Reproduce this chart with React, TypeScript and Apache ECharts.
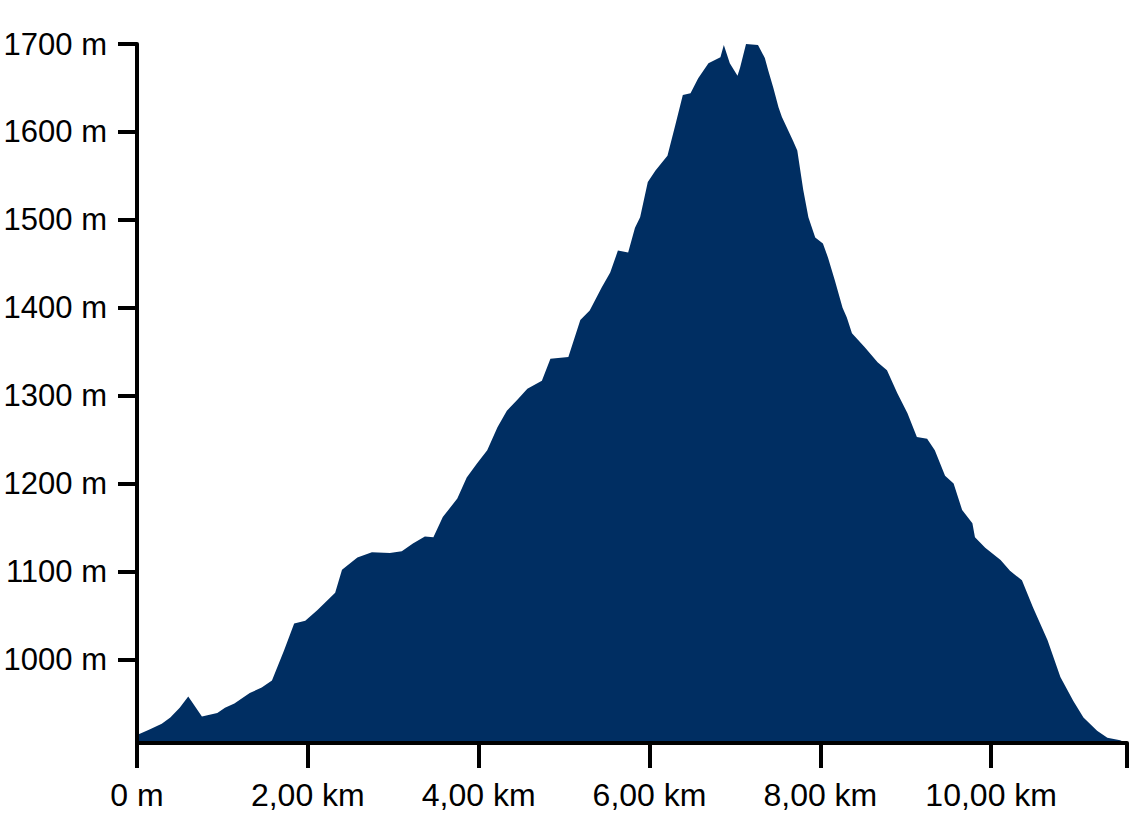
import React, { useEffect, useRef } from "react";
import * as echarts from "echarts";

// distance along the route, km
const distanceKm = [
  0, 0.14, 0.29, 0.39, 0.5, 0.6, 0.76, 0.94, 1.03, 1.14, 1.32, 1.46, 1.58, 1.72, 1.84, 1.97,
  2.11, 2.32, 2.4, 2.58, 2.75, 2.96, 3.1, 3.23, 3.37, 3.47, 3.58, 3.75, 3.86, 3.98, 4.1, 4.22,
  4.33, 4.45, 4.57, 4.74, 4.84, 5.05, 5.19, 5.3, 5.44, 5.54, 5.63, 5.75, 5.83, 5.89, 5.98, 6.07,
  6.21, 6.3, 6.39, 6.48, 6.57, 6.69, 6.83, 6.87, 6.94, 7.03, 7.06, 7.13, 7.27, 7.35, 7.39, 7.45,
  7.51, 7.55, 7.68, 7.73, 7.8, 7.86, 7.94, 8.03, 8.09, 8.17, 8.26, 8.31, 8.37, 8.52, 8.67, 8.78,
  8.9, 9.02, 9.13, 9.25, 9.34, 9.46, 9.56, 9.66, 9.78, 9.81, 9.93, 10.11, 10.22, 10.36, 10.49,
  10.66, 10.81, 10.96, 11.08, 11.24, 11.36, 11.51, 11.58,
];

// elevation, m
const elevationM = [
  914, 920, 927, 934, 945, 958, 935, 939, 945, 950, 962, 968, 976, 1010, 1041, 1044,
  1056, 1076, 1102, 1116, 1122, 1121, 1123, 1132, 1140, 1139, 1162, 1183, 1207, 1223, 1238, 1264,
  1283, 1295, 1308, 1317, 1342, 1344, 1386, 1397, 1423, 1440, 1465, 1463, 1491, 1503, 1543, 1556,
  1573, 1607, 1642, 1644, 1661, 1678, 1685, 1699, 1678, 1664, 1673, 1700, 1699, 1684, 1670, 1650,
  1628, 1617, 1590, 1579, 1534, 1503, 1480, 1473, 1457, 1431, 1400, 1389, 1371, 1355, 1338, 1329,
  1303, 1280, 1253, 1251, 1238, 1209, 1200, 1170, 1155, 1139, 1127, 1113, 1101, 1090, 1059,
  1022, 980, 953, 934, 919, 911, 908, 905,
];

const xMin = 0;
const xMax = 11.59;
const yMin = 905;
const yMax = 1700;
const xTickValues = [0, 2, 4, 6, 8, 10, 11.59];
const xLabelValues = [0, 2, 4, 6, 8, 10];
const yTickValues = [1000, 1100, 1200, 1300, 1400, 1500, 1600, 1700];

const FONT = "'Liberation Sans', Arial, Helvetica, sans-serif";

export default function App() {
  const ref = useRef<HTMLDivElement>(null);

  useEffect(() => {
    if (!ref.current) return;
    const chart = echarts.init(ref.current, undefined, { renderer: "svg" });
    const data = distanceKm.map((d, i) => [d, elevationM[i]]);
    chart.setOption({
      animation: false,
      backgroundColor: "#ffffff",
      grid: {
        left: 137,
        right: 3,
        top: 44,
        bottom: 77,
        containLabel: false,
        outerBoundsMode: "none",
      },
      xAxis: {
        type: "value",
        min: xMin,
        max: xMax,
        z: 10,
        splitLine: { show: false },
        axisLine: { show: true, lineStyle: { color: "#000", width: 4 } },
        axisTick: {
          show: true,
          length: 25,
          lineStyle: { color: "#000", width: 4 },
          customValues: xTickValues,
        },
        axisLabel: {
          customValues: xLabelValues,
          margin: 36,
          color: "#000",
          fontSize: 32,
          fontFamily: FONT,
          formatter: (v: number) =>
            v === 0 ? "0 m" : v.toFixed(2).replace(".", ",") + " km",
        },
      },
      yAxis: {
        type: "value",
        min: yMin,
        max: yMax,
        z: 10,
        splitLine: { show: false },
        axisLine: { show: true, lineStyle: { color: "#000", width: 4 } },
        axisTick: {
          show: true,
          length: 19,
          lineStyle: { color: "#000", width: 4 },
          customValues: yTickValues,
        },
        axisLabel: {
          customValues: yTickValues,
          margin: 30,
          color: "#000",
          fontSize: 31,
          fontFamily: FONT,
          formatter: (v: number) => `${v} m`,
        },
      },
      series: [
        {
          type: "line",
          data,
          showSymbol: false,
          symbol: "none",
          smooth: false,
          lineStyle: { width: 0, color: "#002e62" },
          areaStyle: { color: "#002e62", opacity: 1, origin: "start" },
          z: 2,
        },
      ],
    });
    return () => chart.dispose();
  }, []);

  return (
    <div
      ref={ref}
      style={{ position: "fixed", left: 0, top: 0, width: 1130, height: 820 }}
    />
  );
}
